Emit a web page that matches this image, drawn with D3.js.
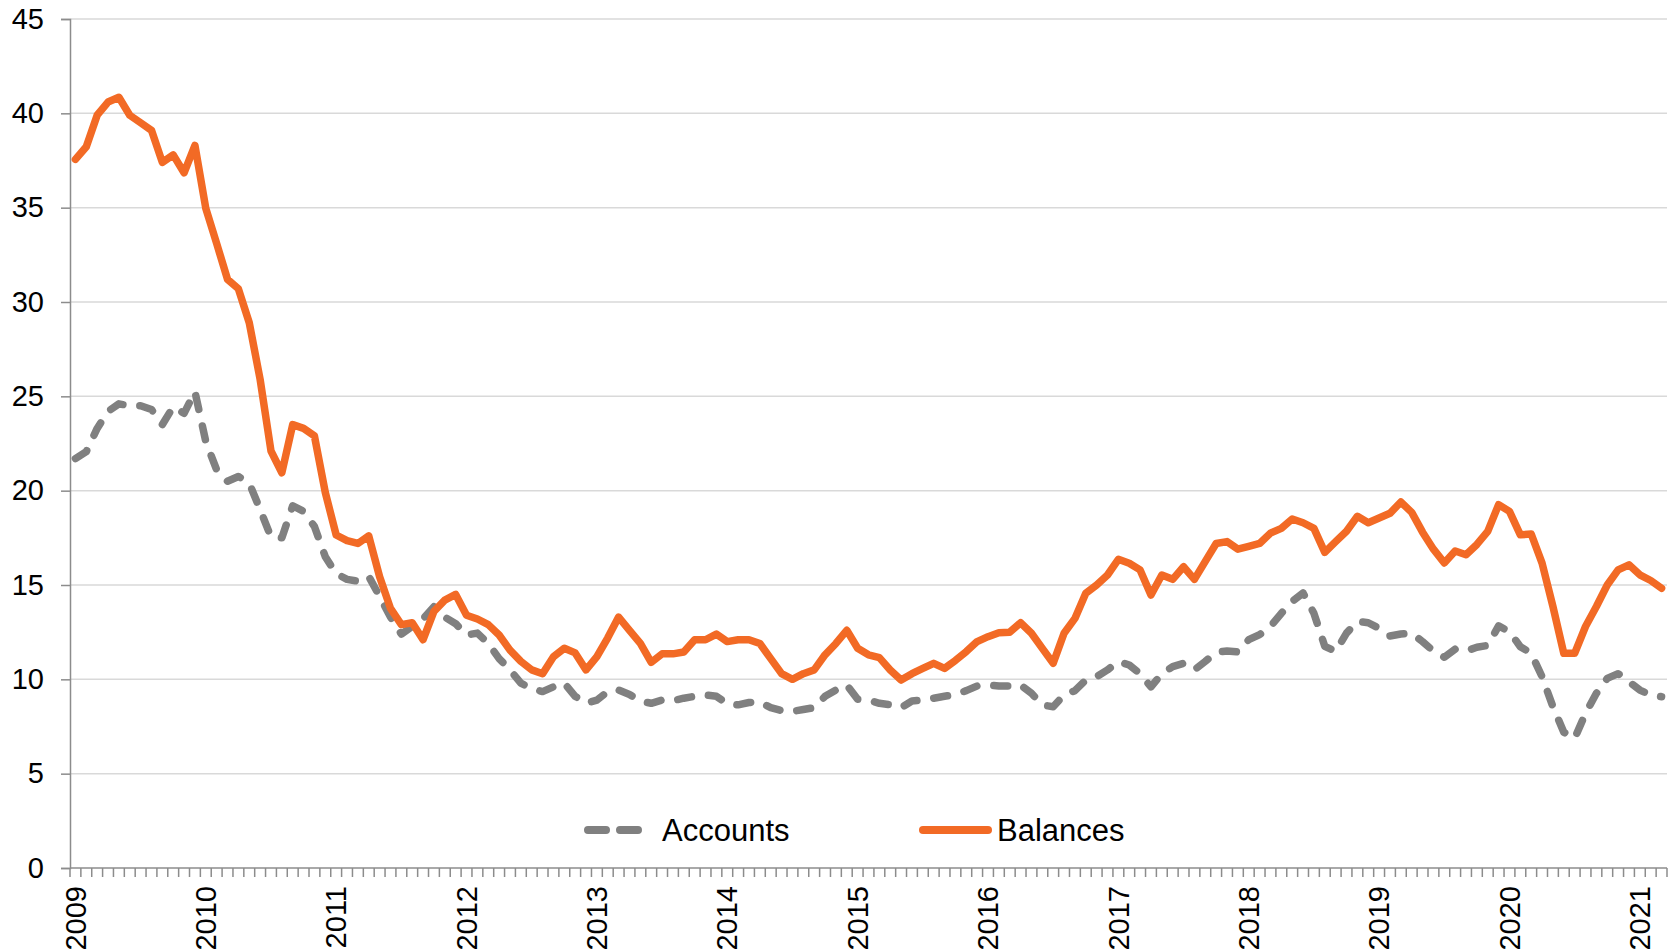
<!DOCTYPE html>
<html>
  <body style="margin:0;background:#fff">
    <style>
      svg text { font-family: Arial, "Liberation Sans", sans-serif; fill: #000; }
    </style>
    <script src="https://d3js.org/d3.v7.min.js"></script>
    <script type="text/javascript">

      const width = 1672;
      const height = 952;

      // monthly series, Jan 2009 .. Mar 2021
      const startYear = 2009;
      const yearLabels = ['2009', '2010', '2011', '2012', '2013', '2014', '2015', '2016', '2017', '2018', '2019', '2020', '2021'];
      const yTicks = [0, 5, 10, 15, 20, 25, 30, 35, 40, 45];
      const seriesNames = ['Accounts', 'Balances'];

      const accounts = [
        21.7, 22.07, 23.3, 24.2, 24.6, 24.5, 24.5, 24.3, 23.5, 24.45, 24.1, 25.25,
        22.6, 21.1, 20.5, 20.75, 20.4, 19.0, 17.55, 17.5, 19.2, 18.9, 18.1, 16.5,
        15.6, 15.3, 15.2, 15.45, 14.4, 13.3, 12.4, 12.8, 13.2, 13.85, 13.3, 12.95,
        12.35, 12.45, 11.9, 11.1, 10.5, 9.8, 9.5, 9.35, 9.6, 9.8, 9.1, 8.73,
        8.9, 9.35, 9.43, 9.2, 8.85, 8.73, 8.9, 8.87, 9.0, 9.1, 9.17, 9.1,
        8.7, 8.65, 8.77, 8.8, 8.5, 8.34, 8.3, 8.4, 8.5, 9.1, 9.43, 9.7,
        8.94, 8.9, 8.73, 8.65, 8.5, 8.85, 8.9, 9.0, 9.1, 9.2, 9.4, 9.65,
        9.7, 9.65, 9.65, 9.7, 9.26, 8.64, 8.55, 9.17, 9.4, 9.96, 10.14, 10.5,
        10.94, 10.76, 10.3, 9.6, 10.3, 10.67, 10.85, 10.5, 10.95, 11.43, 11.5, 11.45,
        12.1, 12.37, 12.8, 13.5, 14.13, 14.58, 13.5, 11.75, 11.48, 12.45, 13.07, 13.0,
        12.7, 12.3, 12.4, 12.45, 12.0, 11.5, 11.17, 11.6, 11.5, 11.7, 11.8, 12.83,
        12.53, 11.73, 11.38, 10.14, 8.55, 7.2, 6.87, 8.2, 9.26, 10.05, 10.3, 9.87,
        9.43, 9.17, 9.08
      ];

      const balances = [
        37.56, 38.23, 39.9, 40.6, 40.85, 39.9, 39.5, 39.1, 37.4, 37.8, 36.85, 38.3,
        34.96, 33.1, 31.2, 30.7, 28.9, 25.9, 22.1, 20.95, 23.5, 23.3, 22.9, 19.9,
        17.65, 17.35, 17.2, 17.6, 15.44, 13.76, 12.9, 13.0, 12.1, 13.6, 14.2, 14.5,
        13.4, 13.2, 12.9, 12.35, 11.55, 10.95, 10.5, 10.3, 11.2, 11.65, 11.4, 10.5,
        11.2, 12.2, 13.3, 12.6, 11.9, 10.9, 11.35, 11.35, 11.45, 12.1, 12.1, 12.4,
        12.0, 12.1, 12.1, 11.9, 11.1, 10.3, 10.0, 10.3, 10.5, 11.3, 11.9, 12.6,
        11.65, 11.3, 11.15, 10.5, 9.96, 10.3, 10.58, 10.85, 10.58, 11.0, 11.47, 12.0,
        12.26, 12.47, 12.5, 13.0, 12.44, 11.64, 10.85, 12.44, 13.23, 14.56, 15.0, 15.53,
        16.36, 16.15, 15.8, 14.47, 15.53, 15.3, 15.97, 15.3, 16.25, 17.2, 17.3, 16.9,
        17.05, 17.2, 17.75, 18.0, 18.5, 18.3, 18.0, 16.73, 17.3, 17.85, 18.64, 18.3,
        18.55, 18.8, 19.4, 18.85, 17.8, 16.9, 16.17, 16.8, 16.6, 17.15, 17.84, 19.26,
        18.9, 17.66, 17.7, 16.16, 13.86, 11.38, 11.38, 12.8, 13.86, 15.0, 15.8, 16.07,
        15.54, 15.24, 14.83
      ];

      const months = d3.range(balances.length).map((i) => {
        const y = startYear + Math.floor(i / 12);
        return `${y}-${String(i % 12 + 1).padStart(2, '0')}`;
      });

      const plotLeft = 70;
      const plotRight = 1667;
      const plotTop = 19;
      const plotBottom = 868;

      const orange = '#F26A25';
      const grey = '#808080';

      const svg = d3.select('body')
        .append('svg')
        .attr('width', width)
        .attr('height', height);

      const xScale = d3.scaleBand()
        .domain(months)
        .range([plotLeft, plotRight]);

      const yScale = d3.scaleLinear()
        .domain([0, 45])
        .range([plotBottom, plotTop]);

      const xMid = (m) => xScale(m) + xScale.bandwidth() / 2;

      // gridlines
      svg.append('g')
        .selectAll('line')
        .data(yTicks.filter((d) => d > 0))
        .enter()
        .append('line')
        .attr('x1', plotLeft)
        .attr('x2', plotRight)
        .attr('y1', (d) => yScale(d))
        .attr('y2', (d) => yScale(d))
        .attr('stroke', '#D9D9D9')
        .attr('stroke-width', 1.5);

      // y axis
      const axisLeft = d3.axisLeft(yScale)
        .tickValues(yTicks)
        .tickSize(9)
        .tickPadding(17);
      const gy = svg.append('g')
        .attr('transform', `translate(${plotLeft}, 0)`)
        .call(axisLeft);
      gy.select('.domain').attr('stroke', '#8C8C8C').attr('stroke-width', 1.5);
      gy.selectAll('.tick line').attr('stroke', '#8C8C8C').attr('stroke-width', 1.5);
      gy.selectAll('.tick text')
        .style('font-size', '29px')
        .style('font-family', 'Arial, "Liberation Sans", sans-serif')
        .attr('fill', '#000');

      // x axis: ticks at month boundaries
      const boundaries = months.map((m) => xScale(m)).concat([plotRight]);
      svg.append('line')
        .attr('x1', plotLeft)
        .attr('x2', plotRight)
        .attr('y1', plotBottom)
        .attr('y2', plotBottom)
        .attr('stroke', '#8C8C8C')
        .attr('stroke-width', 1.5);
      svg.append('g')
        .selectAll('line')
        .data(boundaries)
        .enter()
        .append('line')
        .attr('x1', (d) => d)
        .attr('x2', (d) => d)
        .attr('y1', plotBottom)
        .attr('y2', plotBottom + 9)
        .attr('stroke', '#8C8C8C')
        .attr('stroke-width', 1.5);

      svg.append('g')
        .selectAll('text')
        .data(yearLabels)
        .enter()
        .append('text')
        .attr('transform', (d) => `translate(${xMid(d + '-01')}, ${plotBottom + 18}) rotate(-90)`)
        .attr('text-anchor', 'end')
        .attr('dy', '0.35em')
        .style('font-size', '29px')
        .text((d) => d);

      // lines
      const line = (values) => d3.line()
        .x((d, i) => xMid(months[i]))
        .y((d) => yScale(d))(values);

      svg.append('path')
        .attr('d', line(accounts))
        .attr('fill', 'none')
        .attr('stroke', grey)
        .attr('stroke-width', 7.5)
        .attr('stroke-dasharray', '14 17')
        .attr('stroke-linecap', 'round')
        .attr('stroke-linejoin', 'round');

      svg.append('path')
        .attr('d', line(balances))
        .attr('fill', 'none')
        .attr('stroke', orange)
        .attr('stroke-width', 7.5)
        .attr('stroke-linejoin', 'round')
        .attr('stroke-linecap', 'round');

      // legend
      const legend = [
        { name: seriesNames[0], color: grey, dash: '18 14', x1: 588, x2: 642, tx: 662 },
        { name: seriesNames[1], color: orange, dash: null, x1: 923, x2: 988, tx: 997 }
      ];
      const lg = svg.append('g').selectAll('g').data(legend).enter().append('g');
      lg.append('line')
        .attr('x1', (d) => d.x1)
        .attr('x2', (d) => d.x2)
        .attr('y1', 830)
        .attr('y2', 830)
        .attr('stroke', (d) => d.color)
        .attr('stroke-width', 8)
        .attr('stroke-linecap', 'round')
        .attr('stroke-dasharray', (d) => d.dash);
      lg.append('text')
        .attr('x', (d) => d.tx)
        .attr('y', 830)
        .attr('dy', '0.35em')
        .style('font-size', '31px')
        .text((d) => d.name);

    </script>
  </body>
</html>
